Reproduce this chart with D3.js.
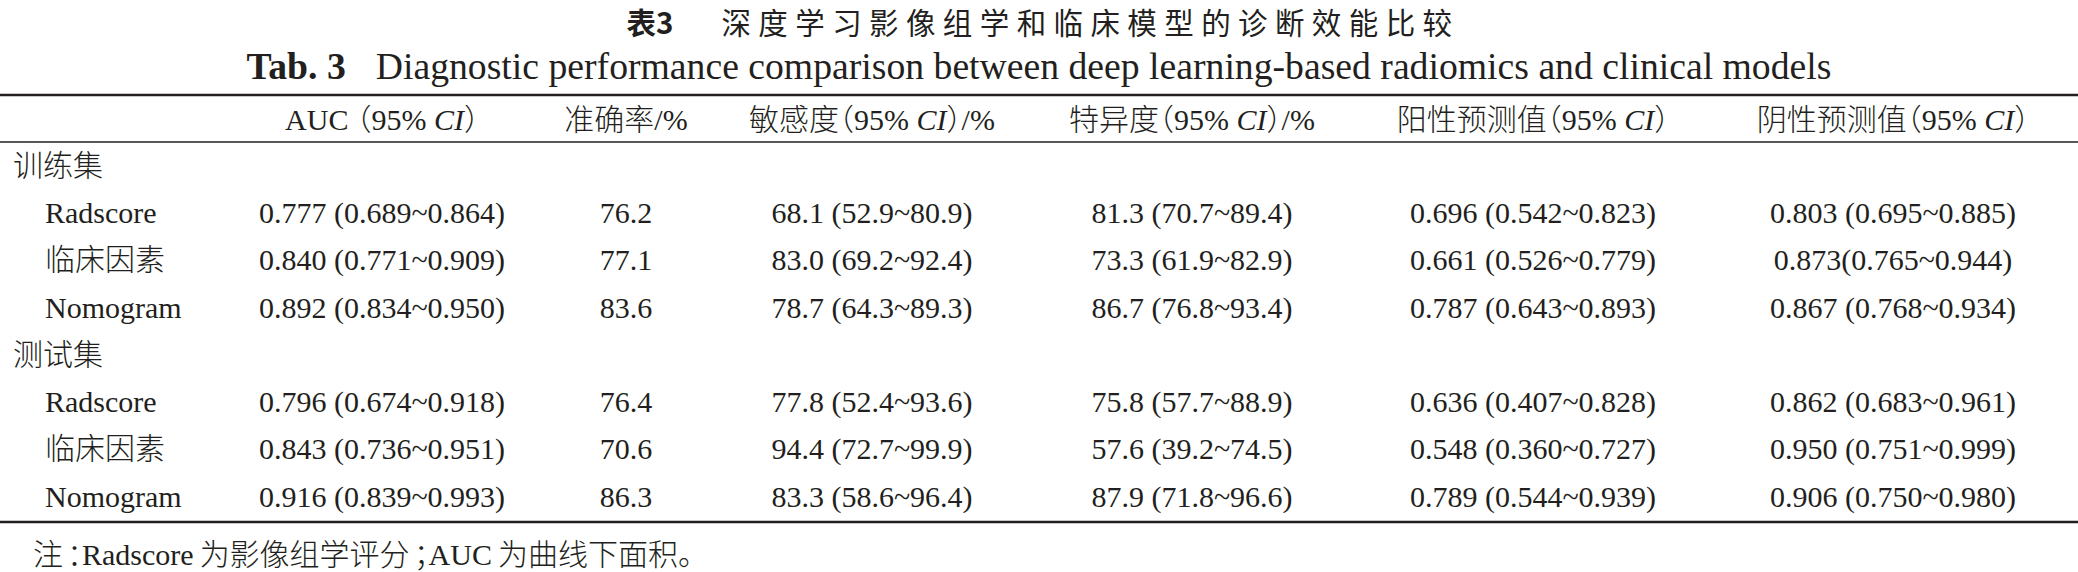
<!DOCTYPE html>
<html>
<head>
<meta charset="utf-8">
<script src="https://cdn.jsdelivr.net/npm/d3@7"></script>
<style>
  body { margin: 0; background: #fff; }
  text { fill: #231f20; }
</style>
</head>
<body>
<div id="table"></div>
<script>
// Table content
const titleCn = ["表3", "深度学习影像组学和临床模型的诊断效能比较"];
const titleEn = ["Tab. 3", "Diagnostic performance comparison between deep learning-based radiomics and clinical models"];
const headers = ["AUC（95% CI）", "准确率/%", "敏感度（95% CI）/%", "特异度（95% CI）/%", "阳性预测值（95% CI）", "阴性预测值（95% CI）"];
const groups = ["训练集", "测试集"];
const models = ["Radscore", "临床因素", "Nomogram"];

const aucCI = ["0.777 (0.689~0.864)", "0.840 (0.771~0.909)", "0.892 (0.834~0.950)",
               "0.796 (0.674~0.918)", "0.843 (0.736~0.951)", "0.916 (0.839~0.993)"];
const accuracy = ["76.2", "77.1", "83.6", "76.4", "70.6", "86.3"];
const sensitivity = ["68.1 (52.9~80.9)", "83.0 (69.2~92.4)", "78.7 (64.3~89.3)",
                     "77.8 (52.4~93.6)", "94.4 (72.7~99.9)", "83.3 (58.6~96.4)"];
const specificity = ["81.3 (70.7~89.4)", "73.3 (61.9~82.9)", "86.7 (76.8~93.4)",
                     "75.8 (57.7~88.9)", "57.6 (39.2~74.5)", "87.9 (71.8~96.6)"];
const ppv = ["0.696 (0.542~0.823)", "0.661 (0.526~0.779)", "0.787 (0.643~0.893)",
             "0.636 (0.407~0.828)", "0.548 (0.360~0.727)", "0.789 (0.544~0.939)"];
const npv = ["0.803 (0.695~0.885)", "0.873(0.765~0.944)", "0.867 (0.768~0.934)",
             "0.862 (0.683~0.961)", "0.950 (0.751~0.999)", "0.906 (0.750~0.980)"];
const footnote = ["注", "：Radscore", "为影像组学评分", "；AUC", "为曲线下面积。"];

const width = 2078;
const height = 572;
const font = "'Liberation Serif', 'Times New Roman', 'Noto Sans CJK SC', serif";

const svg = d3.select("#table").append("svg")
    .attr("width", width)
    .attr("height", height)
    .style("font-family", font)
    .style("font-weight", 300)
    .style("font-feature-settings", "'halt'");

// column centres and row baselines
const colKeys = d3.range(headers.length);
const x = d3.scaleOrdinal()
    .domain(colKeys)
    .range([382, 626, 872, 1192, 1533, 1893]);

const y = d3.scaleLinear()
    .domain([0, 7])
    .range([176, 506.5]);

// titles
const t1 = svg.append("text")
    .attr("x", width / 2 + 4)
    .attr("y", 34)
    .attr("text-anchor", "middle")
    .style("font-family", "'Noto Sans CJK SC', sans-serif")
    .style("font-size", "29.5px");
t1.append("tspan").style("font-weight", "bold").text(titleCn[0]);
t1.append("tspan").attr("dx", 48).style("font-weight", 400)
    .style("letter-spacing", "7.4px").text(titleCn[1]);

const t2 = svg.append("text")
    .attr("x", width / 2)
    .attr("y", 79)
    .attr("text-anchor", "middle")
    .style("font-size", "37.7px");
t2.append("tspan").style("font-weight", "bold").text(titleEn[0]);
t2.append("tspan").attr("dx", 30).text(titleEn[1]);

// rules
const rules = [
    { y: 95, w: 2.4 },
    { y: 142, w: 1.3 },
    { y: 522, w: 2.4 }
];
svg.selectAll(".rule")
    .data(rules)
    .enter().append("line")
    .attr("class", "rule")
    .attr("x1", 0)
    .attr("x2", width)
    .attr("y1", d => d.y)
    .attr("y2", d => d.y)
    .attr("stroke", "#231f20")
    .attr("stroke-width", d => d.w);

// header, with CI in italic; a little air between latin text and a full-width bracket
const head = svg.selectAll(".head")
    .data(headers)
    .enter().append("text")
    .attr("class", "head")
    .attr("x", (d, i) => x(i))
    .attr("y", 130)
    .attr("text-anchor", "middle")
    .style("font-size", "30px");

head.each(function(d) {
    const t = d3.select(this);
    const pieces = d.replace(/([A-Za-z])（/, "$1|（").split("|");
    pieces.forEach(function(piece, k) {
        piece.split("CI").forEach(function(p, j) {
            if (j > 0) t.append("tspan").style("font-style", "italic").text("CI");
            if (p) t.append("tspan").attr("dx", (k > 0 && j === 0) ? 8 : null).text(p);
        });
    });
});

// body rows
const columns = [aucCI, accuracy, sensitivity, specificity, ppv, npv];
const rows = [];
groups.forEach(function(g, gi) {
    rows.push({ label: g, indent: false, values: null });
    models.forEach(function(m, mi) {
        const k = gi * models.length + mi;
        rows.push({ label: m, indent: true, values: columns.map(c => c[k]) });
    });
});

const row = svg.selectAll(".row")
    .data(rows)
    .enter().append("g")
    .attr("class", "row")
    .attr("transform", (d, i) => `translate(0,${y(i)})`);

row.append("text")
    .attr("x", d => d.indent ? 45 : 13)
    .style("font-size", "30px")
    .text(d => d.label);

row.selectAll(".cell")
    .data(d => d.values || [])
    .enter().append("text")
    .attr("class", "cell")
    .attr("x", (d, i) => x(i))
    .attr("text-anchor", "middle")
    .style("font-size", "30px")
    .text(d => d);

// footnote
const fnGap = [0, 4, 6, 4, 6];
const fn = svg.append("text")
    .attr("x", 33)
    .attr("y", 565)
    .style("font-size", "30px");
footnote.forEach(function(s, i) {
    fn.append("tspan").attr("dx", fnGap[i]).text(s);
});
</script>
</body>
</html>
